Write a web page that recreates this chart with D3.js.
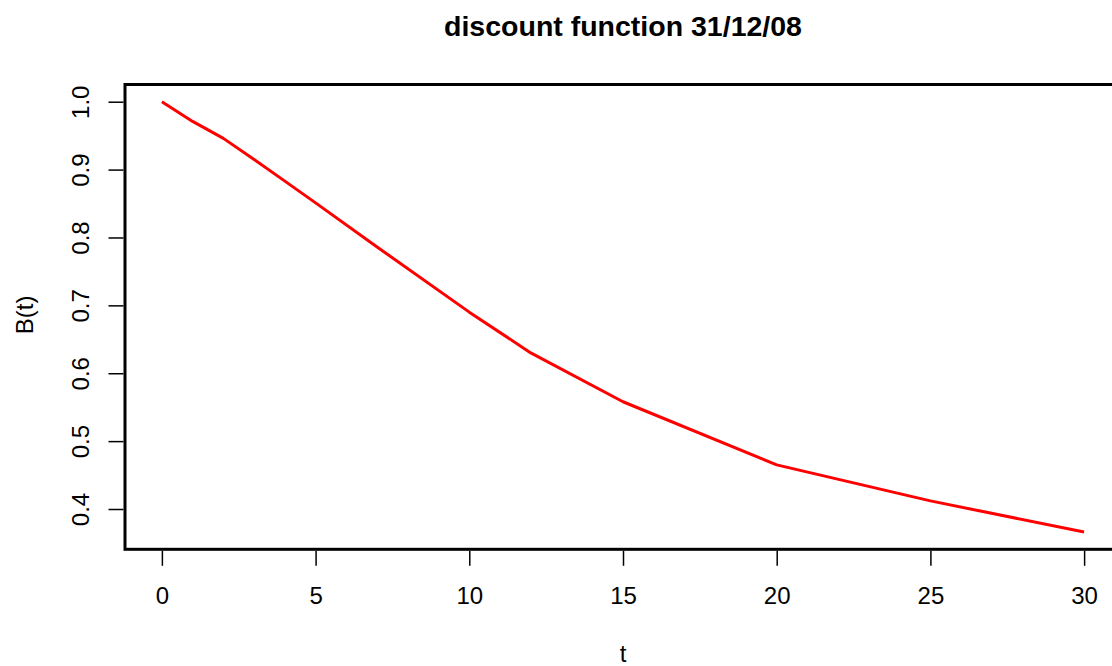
<!DOCTYPE html>
<html>
<head>
<meta charset="utf-8">
<script src="https://cdn.jsdelivr.net/npm/d3@7"></script>
<style>
  html, body { margin: 0; padding: 0; background: #fff; }
  svg { display: block; }
  text { font-family: "Liberation Sans", Arial, Helvetica, sans-serif; fill: #000; }
</style>
</head>
<body>
<svg id="chart" width="1112" height="666"></svg>
<script>
const title = "discount function 31/12/08";
const xLabel = "t";
const yLabel = "B(t)";
const tValues = [0, 1, 2, 3, 4, 5, 7, 10, 12, 15, 20, 25, 30];
const bValues = [1.000, 0.971, 0.946, 0.915, 0.883, 0.851, 0.786, 0.690, 0.630, 0.558, 0.465, 0.412, 0.366];
const xTicks = [0, 5, 10, 15, 20, 25, 30];
const yTicks = [0.4, 0.5, 0.6, 0.7, 0.8, 0.9, 1.0];

const svg = d3.select("#chart");
const plot = { left: 125, right: 1121, top: 84.5, bottom: 549.3 };

const xMin = d3.min(tValues), xMax = d3.max(tValues);
const yMin = d3.min(bValues), yMax = d3.max(bValues);
const xPad = (xMax - xMin) * 0.04, yPad = (yMax - yMin) * 0.04;

const x = d3.scaleLinear().domain([xMin - xPad, xMax + xPad]).range([plot.left, plot.right]);
const y = d3.scaleLinear().domain([yMin - yPad, yMax + yPad]).range([plot.bottom, plot.top]);

const data = tValues.map((t, i) => ({ t, b: bValues[i] }));
svg.append("path")
  .datum(data)
  .attr("fill", "none")
  .attr("stroke", "#ff0000")
  .attr("stroke-width", 3)
  .attr("stroke-linejoin", "round")
  .attr("d", d3.line().x(d => x(d.t)).y(d => y(d.b)));

svg.append("rect")
  .attr("x", plot.left).attr("y", plot.top)
  .attr("width", plot.right - plot.left).attr("height", plot.bottom - plot.top)
  .attr("fill", "none").attr("stroke", "#000").attr("stroke-width", 3);

const FS = 24;
const xAxis = d3.axisBottom(x).tickValues(xTicks).tickSize(15).tickPadding(21).tickFormat(d3.format("d"));
const gx = svg.append("g").attr("transform", `translate(0,${plot.bottom + 1.5})`).call(xAxis);
gx.select(".domain").remove();
gx.selectAll(".tick line").attr("stroke", "#000").attr("stroke-width", 1.5);
gx.selectAll(".tick text").attr("font-size", FS).attr("font-family", "Liberation Sans, Arial, sans-serif").attr("fill", "#000");

const yAxis = d3.axisLeft(y).tickValues(yTicks).tickSize(15).tickFormat(d3.format(".1f"));
const gy = svg.append("g").attr("transform", `translate(${plot.left - 1.5},0)`).call(yAxis);
gy.select(".domain").remove();
gy.selectAll(".tick line").attr("stroke", "#000").attr("stroke-width", 1.5);
gy.selectAll(".tick text")
  .attr("font-size", FS).attr("font-family", "Liberation Sans, Arial, sans-serif").attr("fill", "#000")
  .attr("x", null).attr("dy", null)
  .attr("text-anchor", "middle")
  .attr("transform", "translate(-41,0) rotate(-90)")
  .attr("y", 0)
  .attr("dominant-baseline", "middle");

svg.append("text")
  .attr("x", (plot.left + plot.right) / 2).attr("y", 36)
  .attr("text-anchor", "middle")
  .attr("font-size", 28.5).attr("font-weight", "bold")
  .text(title);

svg.append("text")
  .attr("x", (plot.left + plot.right) / 2).attr("y", 662)
  .attr("text-anchor", "middle")
  .attr("font-size", FS)
  .text(xLabel);

svg.append("text")
  .attr("transform", `translate(33,${(plot.top + plot.bottom) / 2 - 2}) rotate(-90)`)
  .attr("text-anchor", "middle")
  .attr("font-size", FS)
  .text(yLabel);
</script>
</body>
</html>
